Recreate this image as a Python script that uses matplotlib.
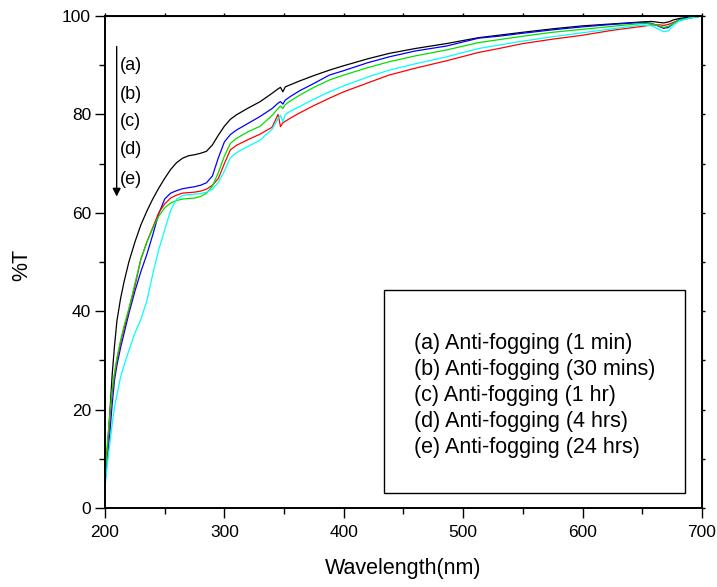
import numpy as np
import matplotlib
matplotlib.use("Agg")
import matplotlib.pyplot as plt
from matplotlib.ticker import MultipleLocator
from matplotlib.patches import Rectangle

plt.rcParams['font.family'] = ['Liberation Sans', 'DejaVu Sans']

# wavelength grid (nm)
wl = [200, 202, 204, 206, 208, 210, 213, 216, 220, 225, 230, 235, 240, 245, 250,
      255, 260, 265, 270, 275, 280, 285, 290, 295, 300, 305, 310, 315, 320, 330,
      340, 345, 347, 349, 351, 355, 363, 375, 388, 400, 420, 438, 460, 486, 513,
      530, 550, 575, 600, 625, 650, 658, 664, 668, 672, 676, 681, 690, 700]

# %T for each sample
t_a = [5, 12, 19, 27, 33, 38, 42.5, 46, 50, 54, 57.5, 60.3, 62.8, 65, 67,
       68.8, 70.2, 71.1, 71.6, 71.8, 72.1, 72.5, 73.8, 75.8, 77.6, 79, 79.9, 80.6, 81.3, 82.6,
       84.3, 85.2, 85.5, 84.6, 85.6, 86, 86.8, 87.9, 89.0, 89.9, 91.3, 92.4, 93.4, 94.4, 95.6,
       96.1, 96.7, 97.4, 98.0, 98.4, 98.8, 98.9, 98.7, 98.6, 98.8, 99.2, 99.5, 99.8, 100]
t_b = [5, 10, 15, 21, 26, 29, 32.5, 35.5, 39.5, 44, 48, 51.5, 55.5, 59.8, 62.8,
       64, 64.5, 64.9, 65.1, 65.3, 65.6, 66.1, 67.5, 71.2, 74.4, 75.9, 76.8, 77.5, 78.2, 79.6,
       81.2, 82.3, 82.6, 82.1, 82.9, 83.6, 84.8, 86.3, 88.0, 88.9, 90.5, 91.7, 92.9, 93.9, 95.5,
       95.9, 96.5, 97.2, 97.8, 98.3, 98.7, 98.5, 97.9, 97.5, 97.7, 98.5, 99.3, 99.7, 100]
t_c = [5, 12, 18, 23.5, 27, 30, 33.5, 36.5, 40.2, 45, 50.5, 54, 57, 60, 61.8,
       63, 63.6, 64, 64.1, 64.2, 64.4, 64.8, 65.6, 67, 70, 72.8, 73.7, 74.3, 74.9, 76,
       77.4, 80, 77.5, 78.3, 78.6, 79.2, 80.3, 81.8, 83.3, 84.6, 86.4, 88.0, 89.4, 90.9, 92.6,
       93.4, 94.4, 95.3, 96.1, 97.1, 97.9, 98.2, 98.2, 98.1, 98.3, 98.7, 99.1, 99.6, 100]
t_d = [6, 13, 19, 24, 27.5, 30.5, 34, 37, 40.5, 45.5, 50.5, 54, 56.8, 59.3, 61,
       62, 62.5, 62.8, 62.9, 63, 63.3, 64, 65.4, 68.2, 71.5, 74.1, 75.1, 75.8, 76.5, 77.6,
       79.8, 81.2, 81.7, 81.2, 82, 82.7, 83.9, 85.5, 87.0, 88.0, 89.5, 90.7, 91.9, 93.1, 94.6,
       95.2, 95.9, 96.7, 97.3, 97.9, 98.5, 98.4, 98.0, 97.7, 97.9, 98.5, 99.2, 99.6, 100]
t_e = [4, 9, 13, 17, 20.5, 23, 26.5, 29, 32, 35.5, 38.3, 42, 47.5, 52.5, 56.5,
       60.5, 62.8, 63.5, 63.7, 63.8, 63.9, 64.2, 64.8, 66.2, 68.5, 71.2, 72.2, 72.9, 73.5, 74.8,
       77, 79.2, 79.8, 78.5, 80, 80.6, 81.6, 83.1, 84.6, 85.8, 87.6, 89.0, 90.3, 91.7, 93.4,
       94.1, 94.9, 95.8, 96.6, 97.4, 98.2, 98.0, 97.3, 96.8, 97.0, 98.1, 99.0, 99.6, 100]

labels = ['(a) Anti-fogging (1 min)', '(b) Anti-fogging (30 mins)',
          '(c) Anti-fogging (1 hr)', '(d) Anti-fogging (4 hrs)',
          '(e) Anti-fogging (24 hrs)']
tags = ['(a)', '(b)', '(c)', '(d)', '(e)']
tag_y = [90.0, 84.1, 78.5, 72.9, 66.7]
colors = ['black', '#0000ff', '#ff0000', '#00e000', '#00ffff']

fig = plt.figure(figsize=(7.17, 5.87), dpi=100)
ax = fig.add_axes([0.1464, 0.1346, 0.8326, 0.8381])

for y, c in zip([t_a, t_b, t_c, t_d, t_e], colors):
    ax.plot(wl, y, color=c, lw=0.9)

ax.set_xlim(200, 700)
ax.set_ylim(0, 100)
ax.xaxis.set_major_locator(MultipleLocator(100))
ax.xaxis.set_minor_locator(MultipleLocator(50))
ax.yaxis.set_major_locator(MultipleLocator(20))
ax.yaxis.set_minor_locator(MultipleLocator(10))
ax.tick_params(which='major', direction='out', length=7, width=1.0, labelsize=12.5, pad=3)
ax.tick_params(axis='x', which='major', pad=5)
ax.tick_params(which='minor', direction='out', length=4, width=1.0)
for s in ax.spines.values():
    s.set_linewidth(1.4)

# small ticks on top and right axes
top = ax.secondary_xaxis('top')
top.xaxis.set_major_locator(MultipleLocator(50))
top.tick_params(direction='out', length=2.5, width=1.0, labeltop=False)
right = ax.secondary_yaxis('right')
right.yaxis.set_major_locator(MultipleLocator(10))
right.tick_params(direction='out', length=2.5, width=1.0, labelright=False)

ax.set_xlabel('Wavelength(nm)', fontsize=15.5, va='center')
ax.set_ylabel('%T', fontsize=15.5, va='center')
ax.xaxis.set_label_coords(0.5, -0.122)
ax.yaxis.set_label_coords(-0.14, 0.494)

# arrow with sample tags
ax.annotate('', xy=(209.8, 63.3), xytext=(209.8, 93.8),
            arrowprops=dict(arrowstyle='-|>', color='black', lw=1.0,
                            mutation_scale=12, shrinkA=0, shrinkB=0))
for t, yy in zip(tags, tag_y):
    ax.text(212.3, yy, t, fontsize=13, va='center', ha='left')

# legend box with text only
ax.add_patch(Rectangle((0.468, 0.0305), 0.504, 0.4125, transform=ax.transAxes,
                       fill=False, edgecolor='black', lw=1.0))
for i, lab in enumerate(labels):
    ax.text(0.518, 0.335 - i * 0.0528, lab, transform=ax.transAxes,
            fontsize=15.5, va='center', ha='left')

fig.savefig('out.png', dpi=100)
